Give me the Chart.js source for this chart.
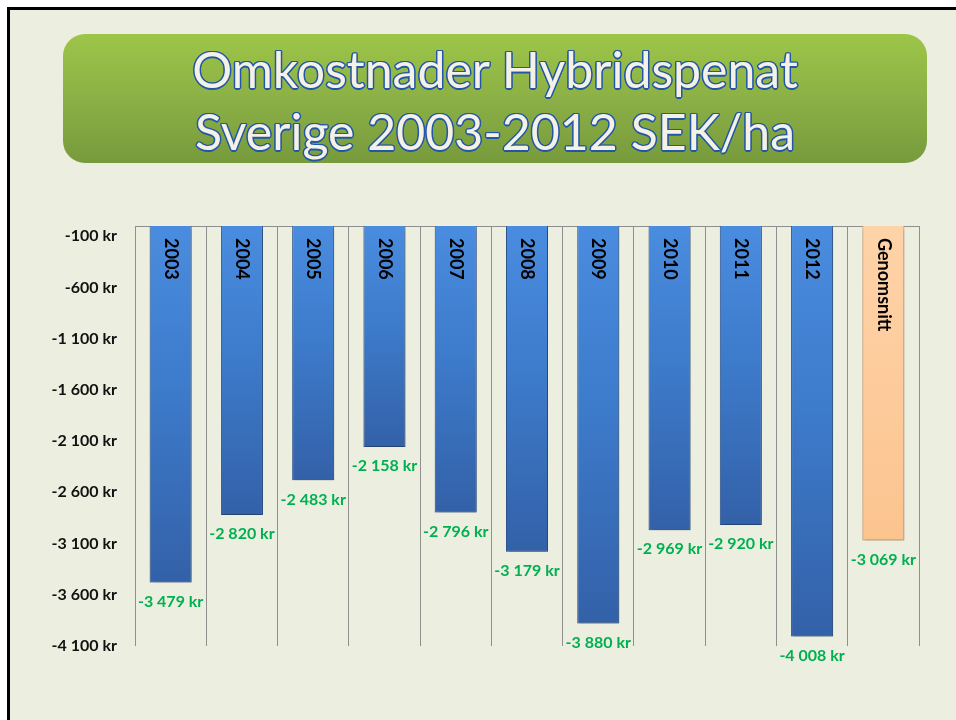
<!DOCTYPE html>
<html>
<head>
<meta charset="utf-8">
<script src="https://cdnjs.cloudflare.com/ajax/libs/Chart.js/4.4.1/chart.umd.min.js"></script>
<style>
  html,body{margin:0;padding:0;background:#fff;width:956px;height:720px;overflow:hidden;}
  #slide{position:absolute;left:7px;top:7px;width:1000px;height:800px;background:#ECEFE0;
         border-left:3px solid #000;border-top:3px solid #000;}
  #title{position:absolute;left:63px;top:34px;width:864px;height:129px;border-radius:22px;
         background:linear-gradient(#9DC548,#8AAE45 55%,#779A3C);z-index:2;}
  #title div{position:absolute;left:0;width:100%;text-align:center;font-family:Lato,sans-serif;
         font-size:50px;line-height:50px;color:#F5F1E6;
         text-shadow:1.5px 0 #2257A8,-1.5px 0 #2257A8,0 1.5px #2257A8,0 -1.5px #2257A8,
                     1px 1px #2257A8,-1px -1px #2257A8,1px -1px #2257A8,-1px 1px #2257A8;}
  #chartWrap{position:absolute;left:0;top:0;width:956px;height:720px;z-index:1;}
</style>
</head>
<body>
<div id="slide"></div>
<div id="title"><div style="top:10px">Omkostnader Hybridspenat</div><div style="top:72px">Sverige 2003-2012 SEK/ha</div></div>
<div id="chartWrap"><canvas id="c" width="956" height="720"></canvas></div>
<script>
// Kostnad per hektar (SEK)
const YEARS  = ['2003','2004','2005','2006','2007','2008','2009','2010','2011','2012','Genomsnitt'];
const COSTS  = [-3479, -2820, -2483, -2158, -2796, -3179, -3880, -2969, -2920, -4008, -3069];
const Y_TICKS = [-100, -600, -1100, -1600, -2100, -2600, -3100, -3600, -4100];
const Y_MIN = -4100, Y_MAX = 0;

const kr = v => String(Math.abs(Math.round(v))).replace(/\B(?=(\d{3})+(?!\d))/g,' ');
const fmt = v => (v<0?'-':'') + kr(v) + ' kr';

function barFill(ctx){
  const ch = ctx.chart, y = ch.scales.y;
  const avg = ctx.dataIndex === YEARS.length-1;
  if(!ch.chartArea || !y) return avg ? '#FFCC99' : '#3B74C4';
  const y0 = y.getPixelForValue(0), y1 = y.getPixelForValue(COSTS[ctx.dataIndex]);
  const g = ch.ctx.createLinearGradient(0,y0,0,y1);
  if(avg){ g.addColorStop(0,'#FFD3A8'); g.addColorStop(1,'#FBC48F'); }
  else { g.addColorStop(0,'#4A8CDF'); g.addColorStop(0.45,'#3D7BCB'); g.addColorStop(1,'#3361A8'); }
  return g;
}

// skugga under staplarna
const shadow = {
  id:'shadow',
  beforeDatasetsDraw(ch){ const c=ch.ctx; c.save(); c.shadowColor='rgba(0,0,0,0.35)'; c.shadowBlur=4; c.shadowOffsetX=1; c.shadowOffsetY=2; },
  afterDatasetsDraw(ch){ ch.ctx.restore(); }
};

// årtal i stapeln + värde under stapeln
const labels = {
  id:'labels',
  afterDatasetsDraw(ch){
    const c = ch.ctx, meta = ch.getDatasetMeta(0);
    meta.data.forEach((bar,i)=>{
      c.save();
      c.font = 'bold 16px Lato, sans-serif';
      c.fillStyle = '#00B050'; c.textAlign='center'; c.textBaseline='middle';
      c.fillText(fmt(COSTS[i]), bar.x, bar.y + 19);
      c.translate(bar.x, ch.chartArea.top + 12);
      c.rotate(Math.PI/2);
      c.fillStyle = '#000'; c.textAlign='left';
      c.font = 'bold 18px Lato, sans-serif';
      c.fillText(YEARS[i], 0, 0);
      c.restore();
    });
  }
};

new Chart(document.getElementById('c'),{
  type:'bar',
  data:{labels:YEARS, datasets:[{data:COSTS, backgroundColor:barFill,
    borderColor:ctx=>ctx.dataIndex===YEARS.length-1?'#E3A777':'#2F5A9A', borderWidth:{left:1,right:1,bottom:1,top:0},
    barPercentage:0.59, categoryPercentage:1}]},
  options:{
    responsive:false, animation:false, devicePixelRatio:1,
    layout:{padding:{left:0, top:226, right:37, bottom:74}},
    plugins:{legend:{display:false}, tooltip:{enabled:false}},
    scales:{
      x:{position:'top', ticks:{display:false},
         grid:{color:'#8F8F8F', lineWidth:1, offset:true, drawTicks:false},
         border:{display:true, color:'#8F8F8F'},
         afterFit:s=>{s.height=0;}},
      y:{min:Y_MIN, max:Y_MAX, grid:{display:false, drawTicks:false}, border:{display:false},
         afterBuildTicks:s=>{s.ticks = Y_TICKS.map(v=>({value:v}));},
         afterFit:s=>{s.width=135;},
         ticks:{padding:18, color:'#111', font:{family:'Lato, sans-serif', size:16, weight:'bold'},
                callback:v=>fmt(v)}}
    }
  },
  plugins:[shadow, labels]
});
</script>
</body>
</html>
